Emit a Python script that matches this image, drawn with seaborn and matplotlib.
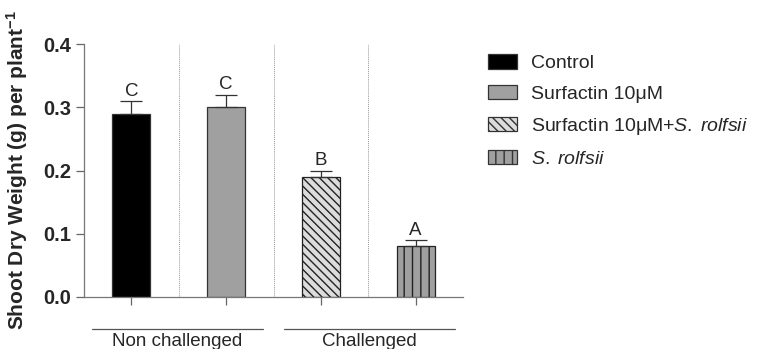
import matplotlib
matplotlib.use("Agg")
import matplotlib.pyplot as plt
import seaborn as sns
import pandas as pd
from matplotlib.patches import Patch

treatments = ["Control", "Surfactin 10μM", "Surfactin 10μM+S. rolfsii", "S. rolfsii"]
legend_labels = ["Control", "Surfactin 10μM", "Surfactin 10μM+$\\it{S.\\;rolfsii}$", "$\\it{S.\\;rolfsii}$"]
values = [0.29, 0.30, 0.19, 0.08]
errors = [0.02, 0.02, 0.01, 0.01]
letters = ["C", "C", "B", "A"]
groups = ["Non challenged", "Challenged"]
yticks = [0.0, 0.1, 0.2, 0.3, 0.4]

sns.set_style("white")
plt.rcParams['font.family'] = ['Liberation Sans', 'DejaVu Sans']
plt.rcParams['hatch.linewidth'] = 1.0
plt.rcParams['mathtext.fontset'] = 'custom'
plt.rcParams['mathtext.it'] = 'Liberation Sans:italic'
plt.rcParams['mathtext.rm'] = 'Liberation Sans'
plt.rcParams['mathtext.bf'] = 'Liberation Sans:bold'

df = pd.DataFrame({"treatment": treatments, "value": values})
colors = ["#000000", "#a0a0a0", "#dcdcdc", "#a0a0a0"]
hatches = [None, None, "\\\\\\\\", "||"]

fig = plt.figure(figsize=(7.76, 3.49), dpi=100)
ax = fig.add_axes([84/776, 1 - 297/349, (463-84)/776, (297-44)/349])

sns.barplot(data=df, x="treatment", y="value", hue="treatment", palette=colors,
            order=treatments, hue_order=treatments, width=0.4, errorbar=None,
            edgecolor="#333333", linewidth=0.9, legend=False, ax=ax)

for i, p in enumerate(ax.patches):
    if hatches[i]:
        p.set_hatch(hatches[i])
        p.set_edgecolor("#222222")

xs = list(range(len(treatments)))
ax.errorbar(xs, values, yerr=[[0]*4, errors], fmt="none", ecolor="#333333",
            elinewidth=0.9, capsize=8, capthick=0.9)
for x, v, e, l in zip(xs, values, errors, letters):
    ax.text(x, v + e + 0.002, l, ha="center", va="bottom", fontsize=13.5)

for x in [0.5, 1.5, 2.5]:
    ax.axvline(x, color="#999999", linestyle=(0, (1, 1)), linewidth=0.7, ymin=0, ymax=1)

ax.set_xlim(-0.5, 3.5)
ax.set_ylim(0, 0.4)
ax.set_yticks(yticks)
ax.set_yticklabels([f"{t:.1f}" for t in yticks], fontweight="bold", fontsize=14.5)
ax.set_xticks(xs)
ax.set_xticklabels([])
ax.set_xlabel("")
ax.set_ylabel("Shoot Dry Weight (g) per plant$^{\\mathbf{-1}}$", fontweight="bold", fontsize=15)
ax.yaxis.set_label_coords(-0.143, 0.5)
ax.tick_params(axis="both", direction="out", length=6, width=0.9, color="#666666", left=True, bottom=True)
for s in ["top", "right"]:
    ax.spines[s].set_visible(False)
for s in ["left", "bottom"]:
    ax.spines[s].set_color("#777777")
    ax.spines[s].set_linewidth(0.9)

# group lines and labels
trans = ax.get_xaxis_transform()
for (x0, x1), g in zip([(-0.42, 1.39), (1.61, 3.42)], groups):
    ax.plot([x0, x1], [-0.125, -0.125], transform=trans, color="#555555", linewidth=0.9, clip_on=False)
    ax.text((x0 + x1) / 2, -0.142, g, transform=trans, ha="center", va="top", fontsize=13.5)

handles = [Patch(facecolor=c, edgecolor="#333333", hatch=h, linewidth=0.9) for c, h in zip(colors, hatches)]
fig.legend(handles, legend_labels, loc="upper left", bbox_to_anchor=(471/776, 1 - 37/349),
           frameon=False, fontsize=14, handlelength=1.45, handleheight=0.75,
           labelspacing=0.66, handletextpad=0.75)

fig.savefig("out.png", dpi=100)
